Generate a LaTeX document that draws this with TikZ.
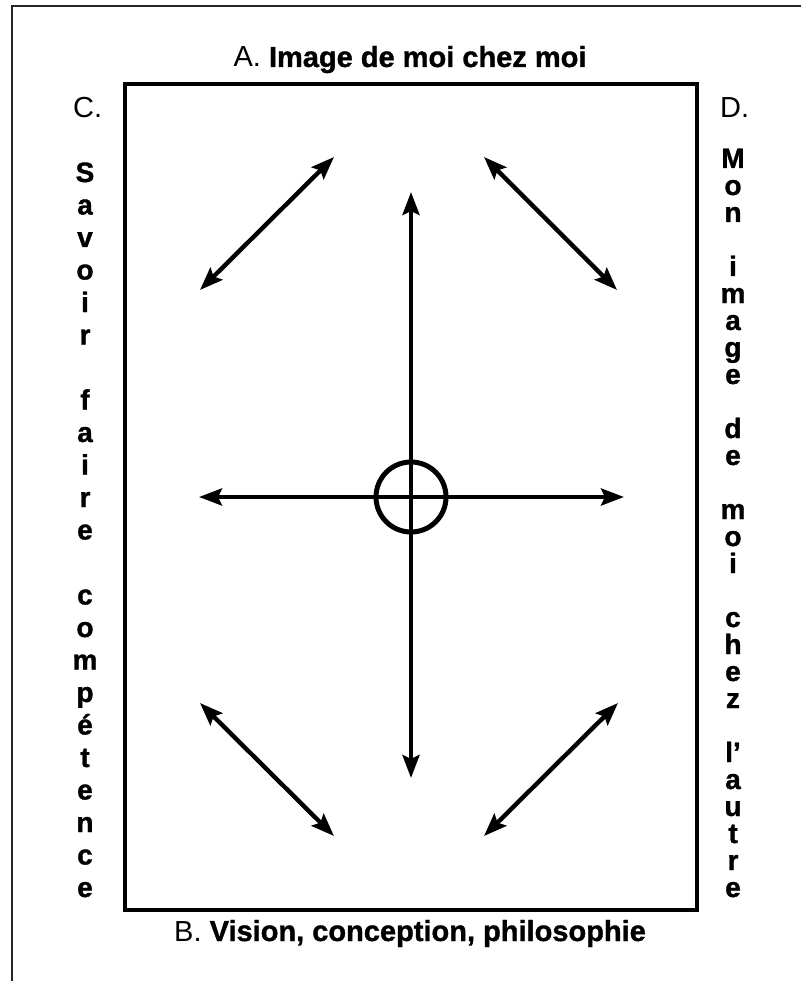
\documentclass[tikz,border=0pt]{standalone}
\usepackage{fontspec}
\setmainfont{Liberation Sans}[BoldFeatures={FakeBold=1.2}]
\usetikzlibrary{arrows.meta}
\begin{document}
\begin{tikzpicture}[x=1pt,y=-1pt,
  tip/.tip={Stealth[length=23pt,width=17pt,inset=4pt]},
  dbl/.style={line width=4.4pt,tip-tip},
  ttl/.style={font=\fontsize{29}{34}\selectfont, anchor=base, inner sep=0pt},
  colL/.style={font=\fontsize{28}{30}\selectfont\bfseries, anchor=base, inner sep=0pt},
]
\useasboundingbox (0,0) rectangle (801,981);
\fill[white] (0,0) rectangle (801,981);
% outer frame (top and left edges only)
\coordinate (o1) at (12,981);
\coordinate (o2) at (12,6);
\coordinate (o3) at (801,6);
\draw[line width=1.4pt, black!85] (o1) -- (o2) -- (o3);
% inner frame
\node[draw, line width=3.2pt, minimum width=572pt, minimum height=826pt, inner sep=0pt] (frame) at (411,497) {};
% titles
\node[ttl] (A) at (410,67) {A. \textbf{Image de moi chez moi}};
\node[ttl] (B) at (410,941) {B. \textbf{Vision, conception, philosophie}};
\node[ttl, anchor=base west] (C) at (73,118) {C.};
\node[ttl, anchor=base west] (D) at (720,118) {D.};
% vertical columns
\foreach \ch [count=\i from 0] in {S,a,v,o,i,r,{},f,a,i,r,e,{},c,o,m,p,é,t,e,n,c,e}
  \node[colL] (L\i) at (85,182+32.5*\i) {\ch};
\foreach \ch [count=\i from 0] in {M,o,n,{},i,m,a,g,e,{},d,e,{},m,o,i,{},c,h,e,z,{},l’,a,u,t,r,e}
  \node[colL] (R\i) at (733,168+27*\i) {\ch};
% centre ring
\node[draw, circle, line width=5pt, minimum size=70pt, inner sep=0pt] (ring) at (411,497) {};
% arrow end points
\coordinate (v1) at (411,192);
\coordinate (v2) at (411,778);
\coordinate (h1) at (199,497);
\coordinate (h2) at (624,497);
\coordinate (tl1) at (200,290);
\coordinate (tl2) at (334,157);
\coordinate (tr1) at (484,157);
\coordinate (tr2) at (617,290);
\coordinate (bl1) at (200,703);
\coordinate (bl2) at (334,836);
\coordinate (br1) at (484,836);
\coordinate (br2) at (618,703);
\draw[dbl] (v1) -- (v2);
\draw[dbl] (h1) -- (h2);
\draw[dbl] (tl1) -- (tl2);
\draw[dbl] (tr1) -- (tr2);
\draw[dbl] (bl1) -- (bl2);
\draw[dbl] (br1) -- (br2);
\end{tikzpicture}
\end{document}
